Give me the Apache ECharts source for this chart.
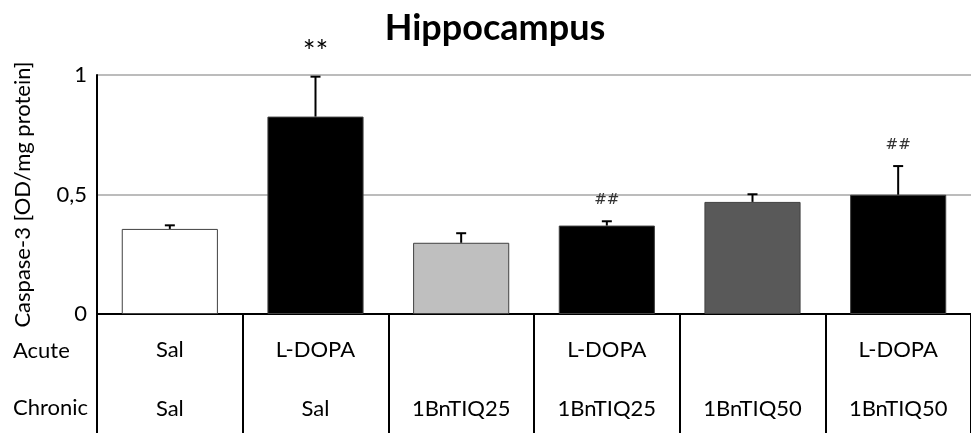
<!DOCTYPE html>
<html>
<head>
<meta charset="utf-8">
<script src="https://cdn.jsdelivr.net/npm/echarts@6/dist/echarts.min.js"></script>
<style>
  html, body { margin: 0; padding: 0; background: #ffffff; }
  #chart { width: 971px; height: 433px; }
</style>
</head>
<body>
<div id="chart"></div>
<script>
// Treatment groups: acute and chronic condition of each group
const acuteLabels   = ['Sal', 'L-DOPA', '', 'L-DOPA', '', 'L-DOPA'];
const chronicLabels = ['Sal', 'Sal', '1BnTIQ25', '1BnTIQ25', '1BnTIQ50', '1BnTIQ50'];

// Caspase-3 activity (OD/mg protein), mean and SEM per group
const meanValues = [0.356, 0.826, 0.298, 0.370, 0.469, 0.499];
const semValues  = [0.015, 0.167, 0.040, 0.018, 0.032, 0.120];

// Significance marks above the error bars
const sigMarks = ['', '**', '', '##', '', '##'];

// Bar fill per group
const barColors = ['#ffffff', '#000000', '#bfbfbf', '#000000', '#595959', '#000000'];

// Y axis ticks
const yTicks = [0, 0.5, 1];

const FONT = 'Lato, "Open Sans", sans-serif';
const categories = chronicLabels.map((c, i) => i);

const chart = echarts.init(document.getElementById('chart'), null, { renderer: 'canvas' });

const option = {
  animation: false,
  backgroundColor: '#ffffff',
  title: {
    text: 'Hippocampus',
    left: 490,
    textAlign: 'center',
    top: 5,
    textStyle: { fontFamily: FONT, fontSize: 36, fontWeight: 'bold', color: '#000000' }
  },
  grid: { left: 97, right: 0, top: 75, bottom: 119, containLabel: false, outerBoundsMode: 'none' },
  xAxis: {
    type: 'category',
    data: categories,
    boundaryGap: true,
    axisLine: { show: true, lineStyle: { color: '#000000', width: 2 } },
    axisTick: { show: true, interval: 0, length: 120, lineStyle: { color: '#000000', width: 2 } },
    axisLabel: {
      interval: 0,
      margin: 6,
      fontFamily: FONT,
      fontSize: 22,
      color: '#000000',
      lineHeight: 59,
      formatter: (v) => {
        const i = Number(v);
        return (acuteLabels[i] || ' ') + '\n' + chronicLabels[i];
      }
    },
    splitLine: { show: false }
  },
  yAxis: {
    type: 'value',
    min: yTicks[0],
    max: yTicks[yTicks.length - 1],
    interval: 0.5,
    name: 'Caspase-3 [OD/mg protein]',
    nameLocation: 'middle',
    nameGap: 63,
    nameTextStyle: { fontFamily: FONT, fontSize: 22, color: '#000000' },
    axisLine: { show: true, lineStyle: { color: '#000000', width: 2 } },
    axisTick: { show: false },
    axisLabel: {
      margin: 10,
      fontFamily: FONT,
      fontSize: 22,
      color: '#000000',
      formatter: (v) => String(v).replace('.', ',')
    },
    splitLine: { show: true, lineStyle: { color: '#a6a6a6', width: 1.5 } }
  },
  graphic: [
    { type: 'text', left: 13, top: 340, style: { text: 'Acute', font: '22px ' + FONT, fill: '#000000' } },
    { type: 'text', left: 13, top: 397, style: { text: 'Chronic', font: '22px ' + FONT, fill: '#000000' } }
  ],
  series: [
    {
      type: 'bar',
      barWidth: '66%',
      data: meanValues.map((v, i) => ({
        value: v,
        itemStyle: { color: barColors[i], borderColor: '#404040', borderWidth: 1 }
      })),
      z: 2
    },
    {
      type: 'custom',
      data: meanValues.map((v, i) => [i, v, v + semValues[i]]),
      encode: { x: 0, y: [1, 2] },
      z: 3,
      renderItem: (params, api) => {
        const i = api.value(0);
        const base = api.coord([i, api.value(1)]);
        const top = api.coord([i, api.value(2)]);
        const half = 5;
        const mark = sigMarks[i];
        const children = [
          { type: 'line', shape: { x1: base[0], y1: base[1], x2: top[0], y2: top[1] },
            style: { stroke: '#000000', lineWidth: 2 } },
          { type: 'line', shape: { x1: top[0] - half, y1: top[1], x2: top[0] + half, y2: top[1] },
            style: { stroke: '#000000', lineWidth: 2 } }
        ];
        if (mark) {
          const isStar = mark.indexOf('*') >= 0;
          children.push({
            type: 'text',
            x: top[0],
            y: top[1] - (isStar ? 24 : 21),
            style: {
              text: mark,
              textAlign: 'center',
              textVerticalAlign: 'middle',
              font: isStar ? '30px ' + FONT : '15px "DejaVu Serif", serif',
              fill: isStar ? '#000000' : '#333333'
            }
          });
        }
        return { type: 'group', children };
      }
    }
  ]
};

chart.setOption(option);
</script>
</body>
</html>
